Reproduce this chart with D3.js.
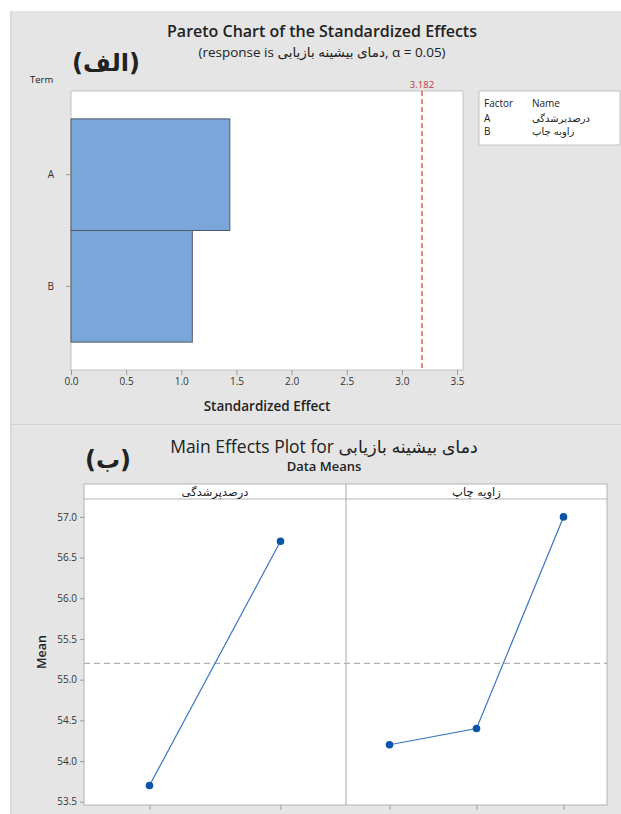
<html>
    <head>
        <script src="https://d3js.org/d3.v7.min.js"></script>
        <title>Pareto and Main Effects</title>
        <style>
            body { margin: 0; background: #fff; }
            text { font-family: "Open Sans", "DejaVu Sans", sans-serif; fill: #222; }
        </style>
    </head>
    <body>
        <div class="viz"></div>
        <script type="text/javascript">
            var terms = ["A", "B"];
            var effects = [1.44, 1.10];
            var critical = 3.182;
            var effectTicks = [0, 0.5, 1.0, 1.5, 2.0, 2.5, 3.0, 3.5];
            var factorNames = ["درصدپرشدگی", "زاویه چاپ"];
            var responseName = "دمای بیشینه بازیابی";

            var levelsA = ["1", "2"];
            var meansA = [53.7, 56.7];
            var levelsB = ["1", "2", "3"];
            var meansB = [54.2, 54.4, 57.0];
            var grandMean = 55.2;
            var meanTicks = [53.5, 54.0, 54.5, 55.0, 55.5, 56.0, 56.5, 57.0];

            var W = 621, H = 814;
            var svg = d3.select(".viz").append("svg")
                        .attr("width", W).attr("height", H);

            // gray backgrounds
            svg.append("rect").attr("x", 10).attr("y", 11).attr("width", W - 10).attr("height", H - 11)
                .attr("fill", "#e5e5e5");
            svg.append("rect").attr("x", 10).attr("y", 11).attr("width", 1.5).attr("height", H - 11)
                .attr("fill", "#d6d6d6");
            svg.append("line").attr("x1", 10).attr("x2", W).attr("y1", 424.5).attr("y2", 424.5)
                .attr("stroke", "#d2d2d2");

            // ---------- Pareto chart ----------
            var px0 = 71, px1 = 463, py0 = 91, py1 = 370;
            var xScale = d3.scaleLinear().domain([0, 3.554]).range([px0, px1]);
            var yBand = d3.scaleBand().domain(terms).range([py0, py1]).paddingInner(0).paddingOuter(0.25);

            svg.append("text").attr("x", 322).attr("y", 37).attr("text-anchor", "middle")
                .style("font-size", "16px").style("font-weight", "600")
                .text("Pareto Chart of the Standardized Effects");
            svg.append("text").attr("x", 322).attr("y", 57).attr("text-anchor", "middle")
                .style("font-size", "13.5px")
                .text("(response is " + responseName + ", α = 0.05)");
            svg.append("text").attr("x", 106).attr("y", 71).attr("text-anchor", "middle")
                .style("font-size", "24px").style("font-weight", "bold").style("font-family", "DejaVu Sans")
                .text("(الف)");
            svg.append("text").attr("x", 30).attr("y", 83).style("font-size", "9.5px").text("Term");

            svg.append("rect").attr("x", px0).attr("y", py0).attr("width", px1 - px0).attr("height", py1 - py0)
                .attr("fill", "#fff").attr("stroke", "#c4c4c4");

            svg.selectAll(".bar").data(effects).enter().append("rect")
                .attr("class", "bar")
                .attr("x", xScale(0))
                .attr("y", function(d, i){ return yBand(terms[i]); })
                .attr("width", function(d){ return xScale(d) - xScale(0); })
                .attr("height", yBand.bandwidth())
                .attr("fill", "#7ba6d9")
                .attr("stroke", "#505a66")
                .attr("stroke-width", 1);

            svg.append("line")
                .attr("x1", xScale(critical)).attr("x2", xScale(critical))
                .attr("y1", py0).attr("y2", py1)
                .attr("stroke", "#d9484b").attr("stroke-width", 1.3).attr("stroke-dasharray", "5,3");
            svg.append("text").attr("x", xScale(critical)).attr("y", 88).attr("text-anchor", "middle")
                .style("font-size", "9.5px").style("fill", "#b43a3a").text(critical);

            var xAxis = svg.append("g").attr("transform", "translate(0," + py1 + ")")
                .call(d3.axisBottom(xScale).tickValues(effectTicks).tickFormat(d3.format(".1f")).tickSize(5).tickPadding(3));
            xAxis.select(".domain").remove();
            xAxis.selectAll("line").attr("stroke", "#9a9a9a");
            xAxis.selectAll("text").style("font-size", "10px").style("fill", "#333")
                .style("font-family", "\"Open Sans\", sans-serif");

            var yAxis = svg.append("g").attr("transform", "translate(" + px0 + ",0)")
                .call(d3.axisLeft(yBand).tickSize(5).tickPadding(12));
            yAxis.select(".domain").remove();
            yAxis.selectAll("line").attr("stroke", "#9a9a9a");
            yAxis.selectAll("text").style("font-size", "10px").style("fill", "#333")
                .style("font-family", "\"Open Sans\", sans-serif");

            svg.append("text").attr("x", 267).attr("y", 411).attr("text-anchor", "middle")
                .style("font-size", "13.5px").style("font-weight", "600").text("Standardized Effect");

            // legend
            var lg = svg.append("g").attr("transform", "translate(479,91)");
            lg.append("rect").attr("width", 141).attr("height", 54).attr("fill", "#fff").attr("stroke", "#c4c4c4");
            lg.append("text").attr("x", 5).attr("y", 16).style("font-size", "10px").text("Factor");
            lg.append("text").attr("x", 53).attr("y", 16).style("font-size", "10px").text("Name");
            terms.forEach(function(t, i){
                lg.append("text").attr("x", 5).attr("y", 31 + i * 13).style("font-size", "10px").text(t);
                lg.append("text").attr("x", 53).attr("y", 31 + i * 13).style("font-size", "10px")
                    .style("font-family", "DejaVu Sans").text(factorNames[i]);
            });

            // ---------- Main effects plot ----------
            var mx0 = 84, mx1 = 607, msep = 346, hy0 = 484, hy1 = 499, my1 = 805;
            var yMean = d3.scaleLinear().domain([53.46, 57.22]).range([my1, hy1]);
            var xA = d3.scalePoint().domain(levelsA).range([mx0, msep]).padding(0.5);
            var xB = d3.scalePoint().domain(levelsB).range([msep, mx1]).padding(0.5);

            svg.append("text").attr("x", 324).attr("y", 453).attr("text-anchor", "middle")
                .style("font-size", "17.5px")
                .text("Main Effects Plot for " + responseName);
            svg.append("text").attr("x", 324).attr("y", 471).attr("text-anchor", "middle")
                .style("font-size", "13px").style("font-weight", "600").text("Data Means");
            svg.append("text").attr("x", 108).attr("y", 468).attr("text-anchor", "middle")
                .style("font-size", "24px").style("font-weight", "bold").style("font-family", "DejaVu Sans")
                .text("(ب)");

            svg.append("rect").attr("x", mx0).attr("y", hy0).attr("width", mx1 - mx0).attr("height", my1 - hy0)
                .attr("fill", "#fff").attr("stroke", "#b4b4b4");
            svg.append("line").attr("x1", mx0).attr("x2", mx1).attr("y1", hy1).attr("y2", hy1).attr("stroke", "#b4b4b4");
            svg.append("line").attr("x1", msep).attr("x2", msep).attr("y1", hy0).attr("y2", my1).attr("stroke", "#a8a8a8");

            [[mx0, msep], [msep, mx1]].forEach(function(p, i){
                svg.append("text").attr("x", (p[0] + p[1]) / 2).attr("y", 496).attr("text-anchor", "middle")
                    .style("font-size", "11.5px").style("font-family", "DejaVu Sans").text(factorNames[i]);
            });

            svg.append("line").attr("x1", mx0).attr("x2", mx1)
                .attr("y1", yMean(grandMean)).attr("y2", yMean(grandMean))
                .attr("stroke", "#b0b0b0").attr("stroke-width", 1.2).attr("stroke-dasharray", "6,4");

            var line = d3.line();
            function drawSeries(xs, levels, means){
                var pts = means.map(function(m, i){ return [xs(levels[i]), yMean(m)]; });
                svg.append("path").attr("d", line(pts)).attr("fill", "none")
                    .attr("stroke", "#3a74c2").attr("stroke-width", 1.2);
                svg.selectAll(null).data(pts).enter().append("circle")
                    .attr("cx", function(d){ return d[0]; })
                    .attr("cy", function(d){ return d[1]; })
                    .attr("r", 3.8).attr("fill", "#0a55a7");
                var ax = svg.append("g").attr("transform", "translate(0," + my1 + ")")
                    .call(d3.axisBottom(xs).tickSize(5).tickFormat(""));
                ax.select(".domain").remove();
                ax.selectAll("line").attr("stroke", "#9a9a9a");
            }
            drawSeries(xA, levelsA, meansA);
            drawSeries(xB, levelsB, meansB);

            var my = svg.append("g").attr("transform", "translate(" + mx0 + ",0)")
                .call(d3.axisLeft(yMean).tickValues(meanTicks).tickFormat(d3.format(".1f")).tickSize(4).tickPadding(3));
            my.select(".domain").remove();
            my.selectAll("line").attr("stroke", "#9a9a9a");
            my.selectAll("text").style("font-size", "10px").style("fill", "#333")
                .style("font-family", "\"Open Sans\", sans-serif");

            svg.append("text").attr("transform", "translate(46,652) rotate(-90)").attr("text-anchor", "middle")
                .style("font-size", "12.5px").style("font-weight", "600").text("Mean");
        </script>
    </body>
</html>
